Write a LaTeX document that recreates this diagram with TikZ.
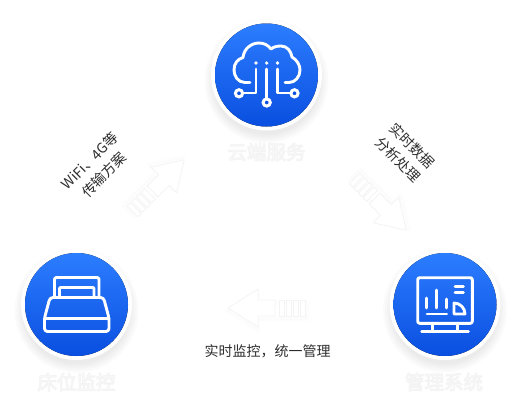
\documentclass[tikz,border=0pt]{standalone}
\usepackage{fontspec}
\setmainfont{Noto Sans CJK SC}
\usepackage{xcolor}
\usepackage{tikz}
\usetikzlibrary{positioning}
\definecolor{badgetop}{HTML}{2C7DFF}
\definecolor{badgebot}{HTML}{0A4FE0}
\newcommand{\halotext}[1]{\special{pdf:code q 2 Tr 1 w 0.955 G 1 1 1 rg}#1\special{pdf:code Q}}

\begin{document}
\begin{tikzpicture}[
    x=1pt, y=-1pt,
    icon/.style={draw=white, line width=2.9pt, line cap=round, line join=round},
    dot/.style={fill=white},
    hole/.style={draw=white, line width=3pt, fill=badgebot},
    title/.style={text=white, font=\fontsize{19.5}{22}\selectfont, inner sep=1pt},
    caption/.style={text=black!82, font=\fontsize{14}{20}\selectfont, align=center, inner sep=1pt},
    flowline/.style={draw=black!4.5, line width=0.8pt, fill=white},
    badge/.pic={
        \foreach \r in {62,60,58,56,54}
            \fill[black, opacity=0.014] (0,6) circle (\r);
        \fill[white] (0,0) circle (55.5);
        \fill[top color=badgetop, bottom color=badgebot] (0,0) circle (51.5);
    },
    flowarrow/.pic={
        \foreach \w in {6,4,2}
            \draw[black, opacity=0.005, line width=\w pt, line join=round] (-39,3) -- (-9,-16) -- (-9,-5) -- (40,-5) -- (40,11) -- (-9,11) -- (-9,22) -- cycle;
        \draw[flowline] (-39,0) -- (-9,-19) -- (-9,-8) -- (8,-8) -- (8,8) -- (-9,8) -- (-9,19) -- cycle;
        \foreach \s in {12,19,26,33}
            \draw[flowline] (\s,-8) rectangle ++(5,16);
    }
]
\useasboundingbox (0,0) rectangle (522,408);
\fill[white] (0,0) rectangle (522,408);

% badges
\pic at (266.5,75) {badge};
\pic at (76.5,304.5) {badge};
\pic at (445,304.5) {badge};

% cloud
\draw[icon] (250,82.5) -- (245,82.5) .. controls (238,82.5) and (234,76) .. (234,70) .. controls (234,63) and (238,59) .. (243,57.5) .. controls (244,48) and (252,43) .. (259,43) .. controls (264,43) and (268,45) .. (271,49) .. controls (274,46.5) and (278,46) .. (281,46) .. controls (287,46) and (291,51) .. (292,57) .. controls (297,60) and (300,65) .. (300,70) .. controls (300,77) and (295,82.5) .. (289,82.5) -- (285,82.5);
\draw[icon] (256,69) -- (256,93) -- (243,93);
\draw[icon] (266.7,69) -- (266.7,98);
\draw[icon] (277.5,69) -- (277.5,93) -- (290,93);
\foreach \x in {256,266.7,277.5}
    \fill[dot] (\x,63) circle (1.8);
\draw[hole] (239,93.3) circle (3.6);
\draw[hole] (294.5,93.3) circle (3.6);
\draw[hole] (266.7,102.5) circle (3.6);

% bed
\draw[icon, rounded corners=2pt] (54.5,297) -- (54.5,277.5) -- (99,277.5) -- (99,297);
\draw[icon, rounded corners=1pt] (59.5,297) -- (59.5,287.5) -- (94,287.5) -- (94,297);
\draw[icon, rounded corners=3pt] (50,297.5) -- (103.5,297.5) -- (109,318) -- (109,331.5) -- (44.5,331.5) -- (44.5,318) -- cycle;
\draw[icon] (44.5,318.5) -- (109,318.5);

% monitor
\draw[icon, rounded corners=2pt] (417.7,277.7) rectangle (472.3,323.3);
\draw[icon] (432.3,323.3) -- (432.3,331.7);
\draw[icon] (457.7,323.3) -- (457.7,331.7);
\draw[icon] (421.7,331.7) -- (468.3,331.7);
\draw[icon] (426.7,298) -- (426.7,308);
\draw[icon] (436.7,290) -- (436.7,308);
\draw[icon] (446.7,299) -- (446.7,308);
\draw[icon] (427,314) -- (446.7,314);
\draw[icon] (455,286.7) -- (463.3,286.7);
\draw[icon] (455,292.7) -- (463.3,292.7);
\draw[icon] (454,303) -- (454,314) -- (465,314) .. controls (465,308) and (460,303) .. (454,303) -- cycle;

% arrows
\pic[rotate=-135, scale=0.95] at (158,186) {flowarrow};
\pic[rotate=135, scale=0.95] at (380,204) {flowarrow};
\pic at (267,308) {flowarrow};

% labels
\node[title] (cloudlabel) at (266.5,152) {\halotext{云端服务}};
\node[title] (bedlabel) at (76.5,382) {\halotext{床位监控}};
\node[title] (monitorlabel) at (444,382) {\halotext{管理系统}};
\node[caption, rotate=45] (linklabel) at (97,168) {WiFi、4G等\\传输方案};
\node[caption, rotate=-45] (datalabel) at (405.5,152.5) {实时数据\\分析处理};
\node[caption] (viewlabel) at (267.5,351) {实时监控，统一管理};
\end{tikzpicture}
\end{document}
